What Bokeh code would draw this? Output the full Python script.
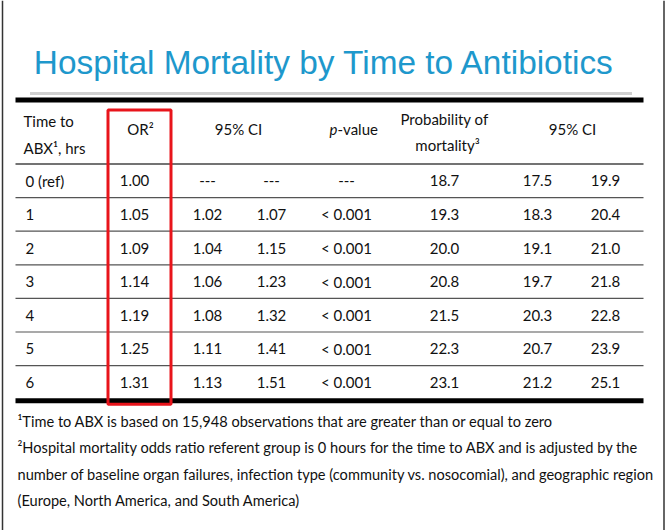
from bokeh.plotting import figure
from bokeh.models import Range1d, ColumnDataSource
from bokeh.core.properties import value
from bokeh.embed import file_html
from bokeh.resources import INLINE

# ---------------- data ----------------
title = "Hospital Mortality by Time to Antibiotics"
times = ["0 (ref)", "1", "2", "3", "4", "5", "6"]
odds_ratio = [1.00, 1.05, 1.09, 1.14, 1.19, 1.25, 1.31]
or_ci_low = [None, 1.02, 1.04, 1.06, 1.08, 1.11, 1.13]
or_ci_high = [None, 1.07, 1.15, 1.23, 1.32, 1.41, 1.51]
p_values = ["---", "< 0.001", "< 0.001", "< 0.001", "< 0.001", "< 0.001", "< 0.001"]
prob_mortality = [18.7, 19.3, 20.0, 20.8, 21.5, 22.3, 23.1]
prob_ci_low = [17.5, 18.3, 19.1, 19.7, 20.3, 20.7, 21.2]
prob_ci_high = [19.9, 20.4, 21.0, 21.8, 22.8, 23.9, 25.1]
footnotes = [
    "\u00b9Time to ABX is based on 15,948 observations that are greater than or equal to zero",
    "\u00b2Hospital mortality odds ratio referent group is 0 hours for the time to ABX and is adjusted by the",
    "number of baseline organ failures, infection type (community vs. nosocomial), and geographic region",
    "(Europe, North America, and South America)",
]

# ---------------- layout / style ----------------
W, H = 666, 530
FONT = value("Lato")
TFONT = value("Liberation Sans")
FS = "15px"
FN_FS = "14.6px"
TXT = "#111111"

p = figure(width=W, height=H, output_backend="svg", toolbar_location=None,
           x_range=Range1d(0, W), y_range=Range1d(H, 0), min_border=0)
p.axis.visible = False
p.grid.visible = False
p.outline_line_color = None
p.background_fill_color = "white"

# slide borders
p.segment(x0=[2, 663.5], y0=[0, 0], x1=[2, 663.5], y1=[H, H], line_color="#333333", line_width=1.5)

# title
p.text(x=[324], y=[62], text=[title], text_align="center", text_baseline="alphabetic",
       text_font=TFONT, text_font_size="33.4px", text_color="#1e98cc")

# hatched rule under title
p.segment(x0=[30], y0=[93], x1=[632], y1=[93], line_color="#a0a0a0", line_width=3, line_dash="1 1")

table_left, table_right = 15, 643
header_bottom = 163.5
row_h = 33.6
n = len(times)
row_y = [header_bottom + (i + 0.5) * row_h for i in range(n)]
sep_y = [header_bottom + (i + 1) * row_h for i in range(n - 1)]
bottom_y = header_bottom + n * row_h + 1.5

# thick top/bottom rules
p.segment(x0=[table_left] * 2, y0=[99.5, bottom_y], x1=[table_right] * 2, y1=[99.5, bottom_y],
          line_color="black", line_width=5)
# header rule and row rules
p.segment(x0=[table_left], y0=[header_bottom], x1=[table_right], y1=[header_bottom],
          line_color="#444444", line_width=1.5)
p.segment(x0=[table_left] * len(sep_y), y0=sep_y, x1=[table_right] * len(sep_y), y1=sep_y,
          line_color="#555555", line_width=1.2)

def t(x, y, s, align="left", size=FS, style="normal", base="middle"):
    p.text(x=[x], y=[y], text=[s], text_align=align, text_baseline=base, text_font=FONT,
           text_font_size=size, text_color=TXT, text_font_style=style)

# header
t(23, 120, "Time to")
t(23, 147, "ABX\u00b9, hrs")
t(140, 128, "OR\u00b2", align="center")
t(238, 128, "95% CI", align="center")
t(337, 128, "p", align="right", style="italic")
t(337, 128, "-value")
t(444, 118, "Probability of", align="center")
t(447, 144, "mortality\u00b3", align="center")
t(572, 128, "95% CI", align="center")

# body cells
def fmt(v, d):
    return "---" if v is None else f"{v:.{d}f}"

cols = [
    (25, "left", times),
    (134, "center", [fmt(v, 2) for v in odds_ratio]),
    (207, "center", [fmt(v, 2) for v in or_ci_low]),
    (271, "center", [fmt(v, 2) for v in or_ci_high]),
    (346, "center", p_values),
    (444, "center", [fmt(v, 1) for v in prob_mortality]),
    (537, "center", [fmt(v, 1) for v in prob_ci_low]),
    (605, "center", [fmt(v, 1) for v in prob_ci_high]),
]
for cx, align, vals in cols:
    src = ColumnDataSource(dict(x=[cx] * n, y=row_y, t=vals))
    p.text(x="x", y="y", text="t", source=src, text_align=align, text_baseline="middle",
           text_font=FONT, text_font_size=FS, text_color=TXT)

# red highlight box around OR column
p.quad(left=[107.5], right=[170.5], top=[109.5], bottom=[bottom_y + 3.5],
       fill_color=None, line_color="#e8141b", line_width=3)

# footnotes
fy0, fdy = 421, 26.3
src = ColumnDataSource(dict(x=[17] * len(footnotes), y=[fy0 + i * fdy for i in range(len(footnotes))],
                            t=footnotes))
p.text(x="x", y="y", text="t", source=src, text_align="left", text_baseline="middle",
       text_font=FONT, text_font_size=FN_FS, text_color=TXT)

open("out.html", "w").write(file_html(p, INLINE))
